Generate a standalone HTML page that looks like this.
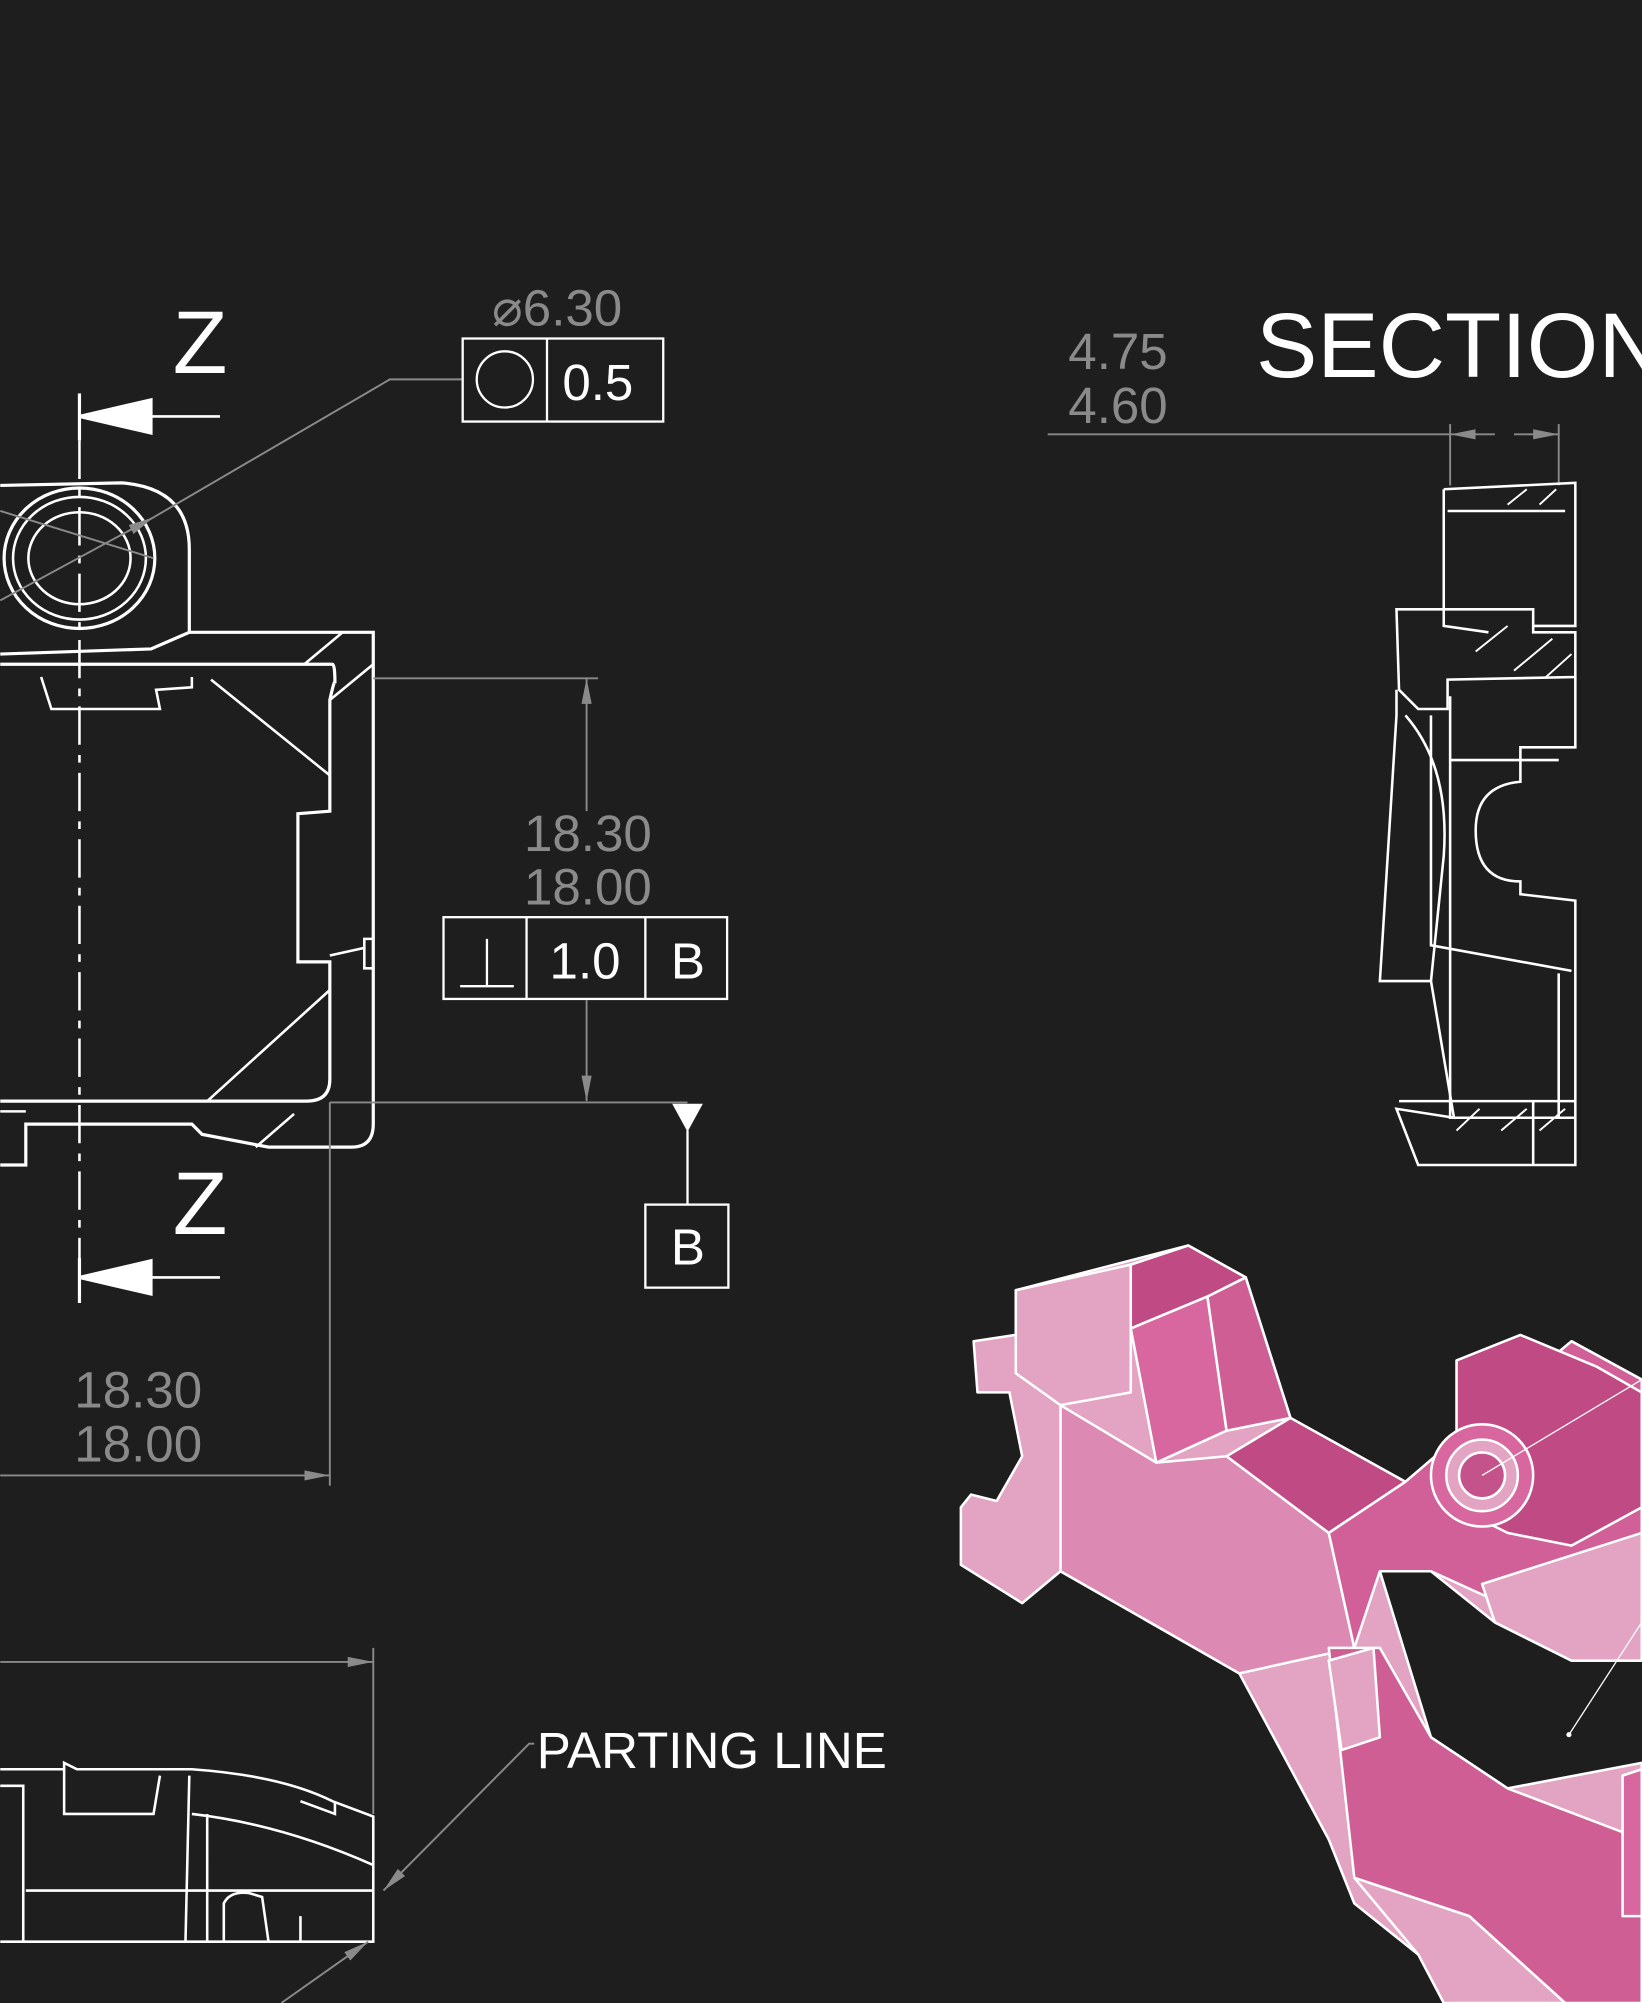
<!DOCTYPE html>
<html><head><style>
html,body{margin:0;padding:0;background:#1e1e1e;}
svg{display:block}
text{font-family:"Liberation Sans",sans-serif}
</style></head><body>
<svg width="1642" height="2003" viewBox="0 0 1285 1568" xmlns="http://www.w3.org/2000/svg">
<rect width="1285" height="1568" fill="#1e1e1e"/>
<defs>
<marker id="ag" viewBox="0 0 20 8" refX="20" refY="4" markerWidth="20" markerHeight="8" orient="auto" markerUnits="userSpaceOnUse"><path d="M0,0 L20,4 L0,8z" fill="#8a8a8a"/></marker>
</defs>
<g fill="none" stroke="#fff" stroke-width="2.5">
<!-- Z arrows -->
<line x1="62" y1="308" x2="62" y2="345"/>
<line x1="110" y1="326" x2="172" y2="326" stroke-width="2"/>
<polygon points="62,326 118,313 118,339" fill="#fff"/>
<line x1="62" y1="985" x2="62" y2="1020"/>
<line x1="110" y1="1000" x2="172" y2="1000" stroke-width="2"/>
<polygon points="62,1000 118,987 118,1013" fill="#fff"/>
<line x1="62" y1="345" x2="62" y2="1020" stroke-dasharray="30,8,6,8" stroke-width="2"/>
<!-- boss -->
<path d="M0,380 L95,378 Q148,382 148,430 L148,495 L118,508 L0,512" />
<ellipse cx="62" cy="437" rx="59" ry="55"/>
<ellipse cx="62" cy="437" rx="52" ry="48" stroke-width="2"/>
<ellipse cx="62" cy="437" rx="40" ry="36" stroke-width="2"/>
<!-- body -->
<path d="M148,495 L292,495 L292,880 Q292,898 275,898 L210,898 L158,888 L150,880 L20,880 L20,912 L0,912"/>
<path d="M0,520 L260,520 Q262,520 262,535 Q262,530 258,548 L258,610 L258,635 L233,637 L233,753 L258,753 L258,845 Q258,862 240,862 L0,862" stroke-width="2.5"/>
<path d="M238,520 L268,495 M258,548 L292,520 M165,532 L258,607 M162,862 L258,775 M200,898 L230,872 M0,870 L20,870" stroke-width="2"/>
<path d="M32,530 L40,555 L125,555 L122,540 L150,538 L150,530" stroke-width="2"/>
<path d="M285,735 L292,735 L292,758 L285,758z M258,748 L285,742" stroke-width="2"/>
</g>
<!-- gray dimension lines -->
<g stroke="#8a8a8a" stroke-width="1.5" fill="none">
<line x1="0" y1="400" x2="120" y2="437"/>
<line x1="0" y1="470" x2="120" y2="405" marker-end="url(#ag)"/>
<polyline points="362,297 305,297 120,405"/>
<line x1="292" y1="531" x2="468" y2="531"/>
<line x1="459" y1="635" x2="459" y2="531" marker-end="url(#ag)"/>
<line x1="459" y1="783" x2="459" y2="862" marker-end="url(#ag)"/>
<line x1="258" y1="863" x2="538" y2="863"/>
<line x1="258" y1="863" x2="258" y2="1163"/>
<line x1="0" y1="1155" x2="258" y2="1155" marker-end="url(#ag)"/>
<line x1="0" y1="1301" x2="292" y2="1301" marker-end="url(#ag)"/>
<line x1="292" y1="1290" x2="292" y2="1420"/>
<line x1="820" y1="340" x2="1135" y2="340"/>
<line x1="1170" y1="340" x2="1135" y2="340" marker-end="url(#ag)"/>
<line x1="1185" y1="340" x2="1220" y2="340" marker-end="url(#ag)"/>
<line x1="1135" y1="332" x2="1135" y2="380"/>
<line x1="1220" y1="332" x2="1220" y2="380"/>
</g>
<g fill="#8a8a8a" font-size="40">
<text x="385" y="255" font-size="40">⌀6.30</text>
<text x="460" y="666" text-anchor="middle">18.30</text>
<text x="460" y="708" text-anchor="middle">18.00</text>
<text x="108" y="1102" text-anchor="middle">18.30</text>
<text x="108" y="1144" text-anchor="middle">18.00</text>
<text x="875" y="289" text-anchor="middle">4.75</text>
<text x="875" y="331" text-anchor="middle">4.60</text>
</g>
<!-- FCFs -->
<g fill="none" stroke="#fff" stroke-width="1.8">
<rect x="362" y="265" width="157" height="65"/>
<line x1="428" y1="265" x2="428" y2="330"/>
<circle cx="395" cy="297" r="22"/>
<rect x="347" y="718" width="222" height="64"/>
<line x1="412" y1="718" x2="412" y2="782"/><line x1="505" y1="718" x2="505" y2="782"/>
<path d="M360,772 L402,772 M381,772 L381,735"/>
<line x1="538" y1="885" x2="538" y2="943"/>
<rect x="505" y="943" width="65" height="65"/>
</g>
<polygon points="526,864 550,864 538,886" fill="#fff"/>
<g fill="#fff" font-size="40">
<text x="440" y="313">0.5</text>
<text x="430" y="766">1.0</text>
<text x="525" y="766">B</text>
<text x="525" y="990">B</text>
<text x="135" y="292" font-size="70">Z</text>
<text x="135" y="966" font-size="70">Z</text>
<text x="420" y="1384" font-size="40">PARTING LINE</text>
<text x="983" y="295" font-size="72">SECTION</text>
</g>
<!-- bottom view -->
<g fill="none" stroke="#fff" stroke-width="2">
<path d="M0,1385 L50,1385 L50,1380 L60,1385 L150,1385 Q220,1390 260,1410 L292,1422 L292,1520 L0,1520"/>
<path d="M0,1398 L18,1398 L18,1520 M50,1385 L50,1420 L120,1420 L125,1390 M148,1390 L145,1520 M162,1420 L162,1520 M20,1480 L292,1480 M175,1520 L175,1490 Q180,1480 195,1482 L205,1485 L210,1520 M235,1520 L235,1500 M150,1420 Q220,1428 292,1460 M235,1410 L262,1420 L262,1410"/>
</g>
<g stroke="#8a8a8a" stroke-width="1.5" fill="none">
<polyline points="418,1365 414,1365 300,1480" marker-end="url(#ag)"/>
<line x1="220" y1="1568" x2="288" y2="1520" marker-end="url(#ag)"/>
</g>
<!-- section view -->
<g fill="none" stroke="#fff" stroke-width="2">
<path d="M1130,383 L1233,378 L1233,490 L1200,490 L1200,495 L1233,495 L1233,530 L1133,532 L1133,555 L1110,555 L1095,540 L1093,477 L1200,477 L1200,490"/>
<path d="M1130,383 L1130,490 L1165,495 M1093,540 L1093,560 L1080,768 L1120,768 L1138,875 L1093,868 L1110,912 L1233,912 L1233,705 L1190,700 L1190,690 Q1155,690 1155,650 Q1155,615 1190,612 L1190,585 L1233,585 L1233,530"/>
<path d="M1100,560 Q1135,600 1130,670 L1120,768 M1120,560 L1120,740 L1230,760 M1135,545 L1135,875 L1220,875 L1220,762 M1135,595 L1220,595 M1095,862 L1233,862 M1138,875 L1233,875 M1200,862 L1200,912 M1133,400 L1225,400"/>
<path d="M1180,395 L1195,383 M1205,395 L1218,383 M1155,510 L1180,490 M1185,525 L1215,500 M1210,530 L1230,512 M1140,885 L1158,868 M1175,885 L1195,868 M1205,885 L1225,868" stroke-width="1.5"/>
</g>
<!-- pink isometric part -->
<g stroke="#fff" stroke-width="2" stroke-linejoin="round">
<polygon points="795,1010 930,975 975,1000 1010,1110 1100,1160 1170,1100 1230,1050 1285,1080 1285,1300 1230,1300 1170,1270 1120,1230 1080,1230 1120,1360 1180,1400 1285,1380 1285,1568 1225,1568 1130,1520 1110,1530 1060,1490 1040,1440 970,1310 830,1230 800,1255 752,1225 752,1180 760,1170 780,1175 800,1140 790,1090 765,1090 762,1050 795,1045" fill="#e3a3c3"/>
<polygon points="795,1010 885,990 885,1090 830,1100 795,1075" fill="#e3a3c3"/>
<polygon points="885,990 930,975 975,1000 945,1015 885,1040" fill="#bf4a84"/>
<polygon points="885,1040 945,1015 960,1120 905,1145" fill="#d7679e"/>
<polygon points="945,1015 975,1000 1010,1110 960,1120" fill="#cf5e95"/>
<polygon points="830,1100 905,1145 960,1140 1040,1200 1060,1290 970,1310 830,1230" fill="#dc8ab4"/>
<polygon points="960,1140 1010,1110 1100,1160 1040,1200" fill="#bf4a84"/>
<polygon points="1040,1200 1100,1160 1170,1100 1230,1050 1285,1080 1285,1250 1230,1280 1120,1230 1080,1230 1060,1290" fill="#d15f98"/>
<polygon points="1140,1065 1190,1045 1250,1070 1285,1090 1285,1180 1230,1210 1180,1200 1140,1180" fill="#bf4a84"/>
<circle cx="1160" cy="1155" r="40" fill="#d7679e"/>
<circle cx="1160" cy="1155" r="28" fill="#e3a3c3"/>
<circle cx="1160" cy="1155" r="18" fill="#c4538b"/>
<polygon points="1160,1240 1285,1200 1285,1300 1230,1300 1170,1270" fill="#e3a3c3"/>
<polygon points="1040,1290 1080,1290 1120,1360 1180,1400 1285,1440 1285,1568 1225,1568 1150,1500 1060,1470" fill="#cf5e95"/>
<polygon points="1060,1470 1150,1500 1225,1568 1130,1568 1110,1530" fill="#e3a3c3"/>
<polygon points="1040,1300 1075,1290 1080,1360 1050,1370" fill="#e3a3c3"/>
<polygon points="1270,1390 1285,1385 1285,1500 1270,1500" fill="#d7679e"/>
</g>
<g stroke="#fff" stroke-width="1" fill="none">
<line x1="1160" y1="1155" x2="1285" y2="1080"/>
<line x1="1228" y1="1358" x2="1285" y2="1270"/>
</g>
<circle cx="1228" cy="1358" r="2" fill="#fff"/>
</svg>
</body></html>
